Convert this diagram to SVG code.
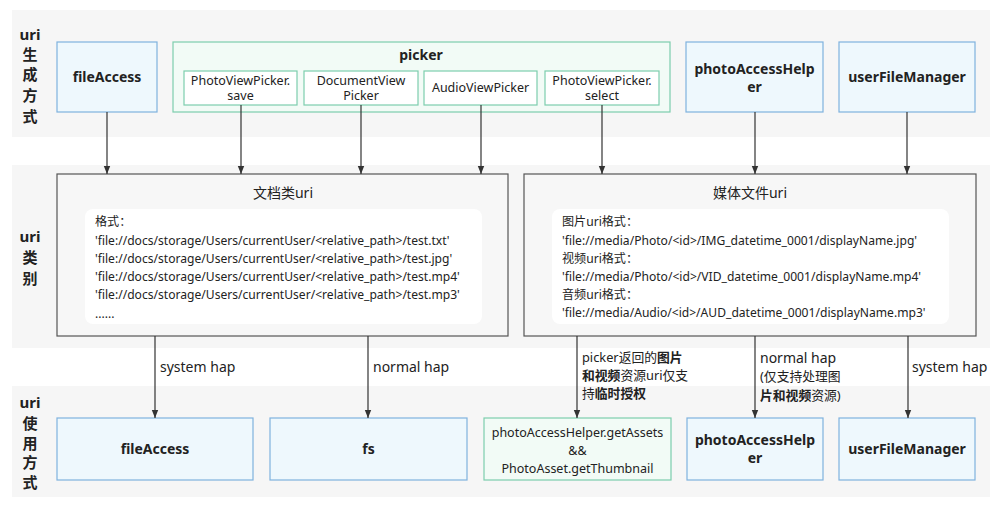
<svg xmlns="http://www.w3.org/2000/svg" width="1000" height="511" viewBox="0 0 1000 511">
<defs>
<marker id="arr" viewBox="0 0 8 8" refX="8" refY="4" markerWidth="8" markerHeight="8" markerUnits="userSpaceOnUse" orient="auto">
<path d="M0,0.8 L8,4 L0,7.2 Z" fill="#333"/>
</marker>
<style>
text{font-family:"Noto Sans","Noto Sans CJK SC",sans-serif;fill:#222}
.band{fill:#f6f6f6}
.blue{fill:#eef8fd;stroke:#7fb2de;stroke-width:1.2}
.green{fill:#f2fbf6;stroke:#7ccdad;stroke-width:1.2}
.sub{fill:#fff;stroke:#7ccdad;stroke-width:1.2}
.cat{fill:#f7f7f7;stroke:#555;stroke-width:1.2}
.inner{fill:#fff}
.side{font-size:15px;font-weight:bold;text-anchor:middle}
.bl{font-size:14px;font-weight:bold;text-anchor:middle}
.sm{font-size:12.5px;text-anchor:middle}
.ttl{font-size:14px;text-anchor:middle}
.fmt{font-size:12.1px}
.lbl{font-size:14px}
.lbl2{font-size:12.8px}
.b{font-weight:bold}
.ed{stroke:#333;stroke-width:1.2;fill:none;marker-end:url(#arr)}
</style>
</defs>
<rect class="band" x="12" y="10" width="978" height="127"/>
<rect class="band" x="12" y="165" width="978" height="183"/>
<rect class="band" x="12" y="386" width="978" height="111"/>
<g id="lane-labels">
<text class="side" x="30" y="40">uri</text>
<text class="side" x="30" y="60">生</text>
<text class="side" x="30" y="80">成</text>
<text class="side" x="30" y="101">方</text>
<text class="side" x="30" y="122">式</text>
<text class="side" x="30" y="242">uri</text>
<text class="side" x="30" y="263">类</text>
<text class="side" x="30" y="284">别</text>
<text class="side" x="30" y="408">uri</text>
<text class="side" x="30" y="429">使</text>
<text class="side" x="30" y="449">用</text>
<text class="side" x="30" y="468">方</text>
<text class="side" x="30" y="488">式</text>
</g>
<g id="gen-fileAccess">
<rect class="blue" x="57" y="42" width="100" height="70"/>
<text class="bl" x="107" y="82">fileAccess</text>
</g>
<g id="picker">
<rect class="green" x="173" y="42" width="497" height="70"/>
<text class="bl" x="421" y="60">picker</text>
</g>
<g id="photo-save">
<rect class="sub" x="184" y="71" width="113" height="34"/>
<text class="sm" x="240.5" y="85">PhotoViewPicker.</text>
<text class="sm" x="240.5" y="100">save</text>
</g>
<g id="doc-picker">
<rect class="sub" x="304" y="71" width="114" height="34"/>
<text class="sm" x="361" y="85">DocumentView</text>
<text class="sm" x="361" y="100">Picker</text>
</g>
<g id="audio-picker">
<rect class="sub" x="424" y="71" width="113" height="34"/>
<text class="sm" x="480.5" y="92">AudioViewPicker</text>
</g>
<g id="photo-select">
<rect class="sub" x="545" y="71" width="114" height="34"/>
<text class="sm" x="602" y="85">PhotoViewPicker.</text>
<text class="sm" x="602" y="100">select</text>
</g>
<g id="gen-photoAccessHelper">
<rect class="blue" x="686" y="42" width="137" height="70"/>
<text class="bl" x="754.5" y="74">photoAccessHelp</text>
<text class="bl" x="754.5" y="92">er</text>
</g>
<g id="gen-userFileManager">
<rect class="blue" x="839" y="42" width="136" height="70"/>
<text class="bl" x="907" y="82">userFileManager</text>
</g>
<g id="doc-uri">
<rect class="cat" x="57" y="174" width="451" height="162"/>
<text class="ttl" x="283" y="198">文档类uri</text>
<rect class="inner" x="85" y="209" width="397" height="115" rx="8"/>
<text class="fmt" x="95" y="226">格式：</text>
<text class="fmt" x="95" y="245">'file://docs/storage/Users/currentUser/&lt;relative_path&gt;/test.txt'</text>
<text class="fmt" x="95" y="263">'file://docs/storage/Users/currentUser/&lt;relative_path&gt;/test.jpg'</text>
<text class="fmt" x="95" y="281">'file://docs/storage/Users/currentUser/&lt;relative_path&gt;/test.mp4'</text>
<text class="fmt" x="95" y="299">'file://docs/storage/Users/currentUser/&lt;relative_path&gt;/test.mp3'</text>
<text class="fmt" x="95" y="318">......</text>
</g>
<g id="media-uri">
<rect class="cat" x="524" y="174" width="452" height="162"/>
<text class="ttl" x="750" y="198">媒体文件uri</text>
<rect class="inner" x="552" y="209" width="397" height="115" rx="8"/>
<text class="fmt" x="562" y="226">图片uri格式：</text>
<text class="fmt" x="562" y="245">'file://media/Photo/&lt;id&gt;/IMG_datetime_0001/displayName.jpg'</text>
<text class="fmt" x="562" y="263">视频uri格式：</text>
<text class="fmt" x="562" y="281">'file://media/Photo/&lt;id&gt;/VID_datetime_0001/displayName.mp4'</text>
<text class="fmt" x="562" y="299">音频uri格式：</text>
<text class="fmt" x="562" y="317">'file://media/Audio/&lt;id&gt;/AUD_datetime_0001/displayName.mp3'</text>
</g>
<g id="use-fileAccess">
<rect class="blue" x="57" y="418" width="196" height="62"/>
<text class="bl" x="155" y="454">fileAccess</text>
</g>
<g id="use-fs">
<rect class="blue" x="270" y="418" width="197" height="62"/>
<text class="bl" x="368.5" y="454">fs</text>
</g>
<g id="use-getAssets">
<rect class="green" x="484" y="418" width="187" height="62"/>
<text class="sm" x="577.5" y="437">photoAccessHelper.getAssets</text>
<text class="sm" x="577.5" y="455">&amp;&amp;</text>
<text class="sm" x="577.5" y="473">PhotoAsset.getThumbnail</text>
</g>
<g id="use-photoAccessHelper">
<rect class="blue" x="687" y="418" width="136" height="62"/>
<text class="bl" x="755" y="445">photoAccessHelp</text>
<text class="bl" x="755" y="463">er</text>
</g>
<g id="use-userFileManager">
<rect class="blue" x="839" y="418" width="136" height="62"/>
<text class="bl" x="907" y="454">userFileManager</text>
</g>
<g id="connectors">
<line class="ed" x1="107" y1="112" x2="107" y2="174"/>
<line class="ed" x1="241" y1="105" x2="241" y2="174"/>
<line class="ed" x1="361" y1="105" x2="361" y2="174"/>
<line class="ed" x1="481" y1="105" x2="481" y2="174"/>
<line class="ed" x1="602" y1="105" x2="602" y2="174"/>
<line class="ed" x1="755" y1="112" x2="755" y2="174"/>
<line class="ed" x1="907" y1="112" x2="907" y2="174"/>
<line class="ed" x1="155" y1="336" x2="155" y2="418"/>
<line class="ed" x1="368" y1="336" x2="368" y2="418"/>
<line class="ed" x1="577" y1="336" x2="577" y2="418"/>
<line class="ed" x1="755" y1="336" x2="755" y2="418"/>
<line class="ed" x1="908" y1="336" x2="908" y2="418"/>
<text class="lbl" x="160" y="372">system hap</text>
<text class="lbl" x="373" y="372">normal hap</text>
<text class="lbl2" x="582" y="362">picker返回的<tspan class="b">图片</tspan></text>
<text class="lbl2" x="582" y="380"><tspan class="b">和视频</tspan>资源uri仅支</text>
<text class="lbl2" x="582" y="398">持<tspan class="b">临时授权</tspan></text>
<text class="lbl" x="760" y="363">normal hap</text>
<text class="lbl2" x="760" y="381">(仅支持处理图</text>
<text class="lbl2" x="760" y="400"><tspan class="b">片和视频</tspan>资源)</text>
<text class="lbl" x="912" y="372">system hap</text>
</g>
</svg>
